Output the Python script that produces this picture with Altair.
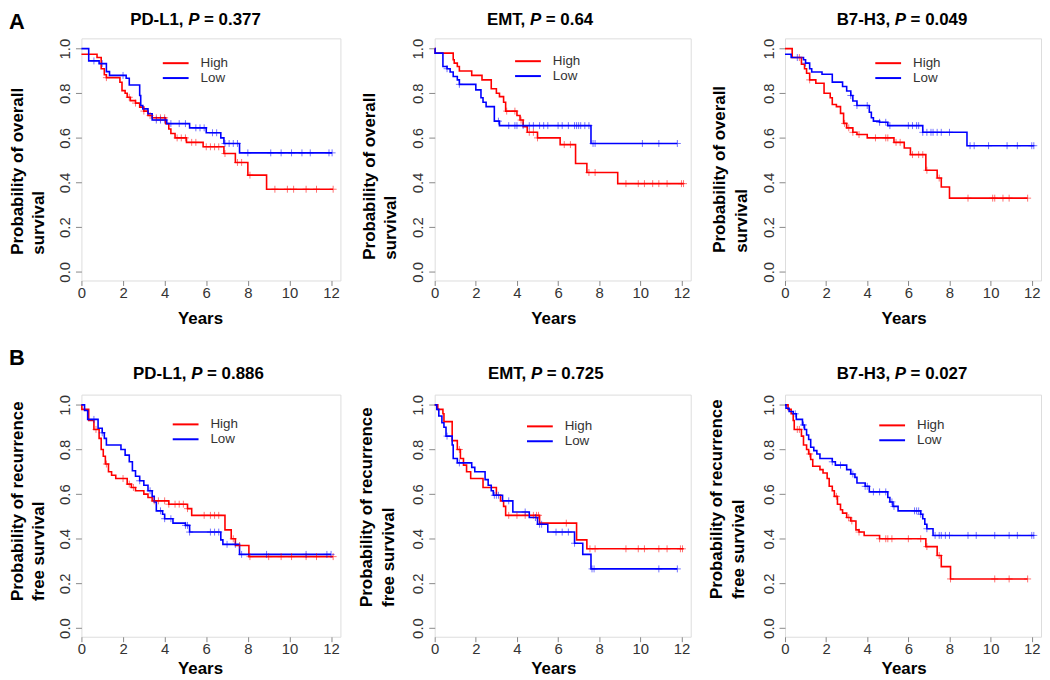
import altair as alt
import numpy as np
import pandas as pd

FONT = "Liberation Sans"
RED = "#ff0000"
BLUE = "#0000ff"
GROUPS = ["High", "Low"]
X_TICKS = [0, 2, 4, 6, 8, 10, 12]
Y_TICKS = [0.0, 0.2, 0.4, 0.6, 0.8, 1.0]

# ---------------- Row A: overall survival ----------------
# PD-L1
A1_HIGH_T = [0, 0.75, 0.95, 1.1, 1.2, 1.85, 1.95, 2.1, 2.2, 2.35, 2.6, 2.8, 3.0, 3.2, 3.4, 4.05, 4.2, 4.3, 4.5, 5.05, 5.85, 6.85, 7.4, 8.0, 8.9]
A1_HIGH_S = [0.975, 0.96, 0.91, 0.883, 0.87, 0.849, 0.812, 0.80, 0.782, 0.767, 0.756, 0.738, 0.72, 0.70, 0.69, 0.664, 0.64, 0.62, 0.60, 0.58, 0.56, 0.53, 0.49, 0.433, 0.37]
A1_HIGH_END = 12.1
A1_HIGH_CENS = [1.2, 2.3, 2.6, 3.0, 3.3, 3.6, 3.8, 4.0, 4.6, 4.8, 5.0, 5.3, 5.5, 6.0, 6.2, 6.4, 6.6, 6.9, 7.5, 7.7, 8.1, 9.3, 9.9, 10.2, 10.8, 11.3, 12.1]
A1_LOW_T = [0, 0.35, 0.85, 1.2, 1.35, 2.15, 2.3, 2.8, 2.85, 2.95, 3.2, 3.4, 4.1, 5.2, 6.0, 6.7, 6.85, 7.6]
A1_LOW_S = [1.0, 0.945, 0.933, 0.897, 0.88, 0.867, 0.837, 0.79, 0.745, 0.73, 0.708, 0.68, 0.664, 0.645, 0.623, 0.60, 0.575, 0.533]
A1_LOW_END = 12.05
A1_LOW_CENS = [0.6, 1.0, 2.0, 3.6, 3.8, 4.0, 4.3, 4.7, 5.0, 5.5, 5.7, 5.9, 6.3, 6.5, 6.9, 7.1, 7.3, 7.5, 8.0, 9.1, 9.6, 10.1, 10.6, 11.0, 11.9, 12.05]

# EMT
A2_HIGH_T = [0, 0.02, 0.9, 0.95, 1.1, 1.2, 1.8, 2.3, 2.75, 3.0, 3.15, 3.35, 3.45, 4.0, 4.15, 4.3, 4.5, 5.0, 6.1, 6.85, 7.4, 8.9]
A2_HIGH_S = [1.0, 0.98, 0.95, 0.935, 0.92, 0.90, 0.88, 0.86, 0.82, 0.80, 0.785, 0.76, 0.72, 0.70, 0.68, 0.65, 0.625, 0.60, 0.57, 0.485, 0.445, 0.395]
A2_HIGH_END = 12.1
A2_HIGH_CENS = [3.5, 3.9, 4.2, 4.6, 4.8, 5.0, 6.3, 6.6, 7.5, 7.8, 9.3, 9.9, 10.2, 10.6, 10.9, 11.3, 12.0, 12.1]
A2_LOW_T = [0, 0.02, 0.4, 0.6, 0.75, 0.9, 1.1, 1.2, 2.0, 2.25, 2.35, 2.5, 2.9, 3.15, 7.6]
A2_LOW_S = [1.0, 0.98, 0.92, 0.91, 0.895, 0.875, 0.86, 0.84, 0.815, 0.78, 0.76, 0.74, 0.675, 0.655, 0.575]
A2_LOW_END = 11.8
A2_LOW_CENS = [0.6, 1.2, 3.1, 3.6, 3.9, 4.0, 4.3, 4.6, 4.8, 5.1, 5.3, 5.5, 6.0, 6.2, 6.5, 6.8, 6.9, 7.0, 7.1, 7.3, 7.5, 7.7, 7.8, 10.1, 10.9, 11.8]

# B7-H3
A3_HIGH_T = [0, 0.35, 0.8, 0.95, 1.05, 1.2, 1.5, 1.9, 2.2, 2.3, 2.5, 2.7, 2.85, 3.0, 3.3, 3.5, 4.0, 5.3, 5.8, 6.1, 6.85, 7.4, 7.6, 8.0]
A3_HIGH_S = [1.0, 0.96, 0.93, 0.91, 0.89, 0.86, 0.845, 0.80, 0.78, 0.75, 0.74, 0.71, 0.665, 0.645, 0.625, 0.615, 0.60, 0.58, 0.555, 0.525, 0.455, 0.42, 0.38, 0.33]
A3_HIGH_END = 11.8
A3_HIGH_CENS = [0.7, 1.2, 2.9, 3.1, 3.3, 3.6, 4.4, 4.9, 5.0, 5.4, 5.6, 6.2, 6.5, 6.7, 6.9, 7.5, 8.9, 10.1, 10.2, 10.6, 10.9, 11.8]
A3_LOW_T = [0, 0.3, 0.9, 1.0, 1.2, 1.3, 1.8, 2.3, 2.8, 3.0, 3.2, 3.3, 3.5, 4.1, 4.2, 4.3, 4.6, 5.0, 6.7, 8.85]
A3_LOW_S = [0.975, 0.96, 0.95, 0.935, 0.91, 0.895, 0.885, 0.85, 0.83, 0.81, 0.79, 0.765, 0.745, 0.715, 0.69, 0.675, 0.67, 0.655, 0.625, 0.565]
A3_LOW_END = 12.1
A3_LOW_CENS = [0.6, 1.0, 3.2, 3.5, 4.0, 4.6, 4.9, 5.1, 6.0, 6.2, 6.4, 6.5, 6.7, 6.9, 7.1, 7.2, 7.4, 7.6, 8.0, 9.0, 9.2, 9.9, 10.8, 11.3, 12.0, 12.1]

# ---------------- Row B: recurrence free survival ----------------
# PD-L1
B1_HIGH_T = [0, 0.02, 0.35, 0.6, 0.85, 0.95, 1.05, 1.15, 1.3, 1.45, 1.65, 2.2, 2.4, 2.6, 3.0, 3.2, 3.4, 4.2, 5.1, 5.3, 6.9, 7.2, 7.4, 8.05]
B1_HIGH_S = [1.0, 0.98, 0.93, 0.89, 0.85, 0.80, 0.77, 0.735, 0.70, 0.685, 0.67, 0.645, 0.63, 0.615, 0.60, 0.585, 0.57, 0.555, 0.535, 0.505, 0.44, 0.40, 0.37, 0.32]
B1_HIGH_END = 12.1
B1_HIGH_CENS = [0.7, 1.2, 2.0, 2.3, 2.5, 3.5, 3.7, 4.0, 4.2, 4.5, 4.7, 4.9, 5.1, 5.9, 6.2, 6.4, 6.6, 7.3, 7.6, 8.1, 9.0, 9.6, 10.1, 10.8, 11.3, 12.1]
B1_LOW_T = [0, 0.15, 0.3, 0.8, 1.0, 1.1, 1.2, 1.9, 2.1, 2.3, 2.45, 2.6, 2.8, 3.0, 3.2, 3.4, 3.5, 3.6, 3.9, 4.0, 4.4, 5.0, 5.2, 6.7, 6.8, 7.6]
B1_LOW_S = [1.0, 0.975, 0.935, 0.895, 0.875, 0.85, 0.82, 0.80, 0.775, 0.745, 0.705, 0.68, 0.66, 0.64, 0.615, 0.59, 0.565, 0.525, 0.51, 0.49, 0.47, 0.46, 0.43, 0.395, 0.375, 0.33]
B1_LOW_END = 12.0
B1_LOW_CENS = [0.6, 1.0, 2.8, 3.3, 3.8, 4.0, 4.3, 5.0, 5.1, 5.2, 6.2, 6.4, 6.6, 7.0, 7.4, 7.7, 8.9, 10.8, 11.8, 12.0]

# EMT
B2_HIGH_T = [0, 0.15, 0.4, 0.45, 0.85, 1.1, 1.25, 1.4, 1.55, 1.75, 2.35, 3.0, 3.2, 3.35, 3.45, 5.1, 6.9, 7.4]
B2_HIGH_S = [1.0, 0.98, 0.96, 0.925, 0.84, 0.80, 0.76, 0.73, 0.70, 0.67, 0.63, 0.595, 0.57, 0.545, 0.505, 0.47, 0.395, 0.355]
B2_HIGH_END = 12.1
B2_HIGH_CENS = [1.2, 3.6, 4.0, 4.4, 4.8, 4.95, 5.05, 6.4, 7.55, 7.8, 9.3, 9.9, 10.2, 10.9, 11.3, 11.95, 12.05]
B2_LOW_T = [0, 0.1, 0.2, 0.35, 0.45, 0.55, 0.85, 0.9, 1.1, 1.8, 1.95, 2.45, 2.6, 2.75, 2.85, 3.3, 3.8, 4.6, 5.0, 5.5, 6.8, 7.2, 7.6]
B2_LOW_S = [1.0, 0.98, 0.95, 0.92, 0.90, 0.86, 0.82, 0.76, 0.74, 0.72, 0.70, 0.665, 0.64, 0.615, 0.595, 0.57, 0.52, 0.495, 0.465, 0.43, 0.38, 0.33, 0.265]
B2_LOW_END = 11.8
B2_LOW_CENS = [0.6, 1.2, 2.9, 3.0, 3.1, 3.6, 4.4, 4.9, 5.1, 5.2, 5.9, 6.2, 6.5, 6.8, 7.65, 7.75, 10.9, 11.8]

# B7-H3
B3_HIGH_T = [0, 0.15, 0.3, 0.4, 0.45, 0.8, 0.9, 1.05, 1.15, 1.25, 1.35, 1.7, 1.85, 2.05, 2.15, 2.3, 2.4, 2.55, 2.7, 2.8, 3.0, 3.2, 3.45, 3.6, 3.85, 4.6, 6.85, 7.4, 7.6, 8.05]
B3_HIGH_S = [1.0, 0.98, 0.96, 0.93, 0.89, 0.86, 0.82, 0.80, 0.78, 0.755, 0.725, 0.71, 0.695, 0.67, 0.635, 0.615, 0.59, 0.555, 0.53, 0.515, 0.495, 0.48, 0.44, 0.43, 0.415, 0.40, 0.365, 0.325, 0.275, 0.22]
B3_HIGH_END = 11.8
B3_HIGH_CENS = [0.6, 0.7, 1.2, 2.5, 3.1, 3.25, 3.6, 4.6, 4.9, 5.0, 5.2, 6.0, 6.6, 6.9, 7.5, 8.05, 10.2, 10.9, 11.8]
B3_LOW_T = [0, 0.05, 0.2, 0.4, 0.55, 0.85, 0.95, 1.05, 1.15, 1.25, 1.4, 1.55, 1.7, 2.3, 2.45, 3.0, 3.2, 3.4, 3.5, 3.9, 4.1, 5.0, 5.1, 5.25, 5.5, 6.6, 6.7, 6.8, 6.9, 7.2]
B3_LOW_S = [1.0, 0.985, 0.97, 0.96, 0.935, 0.91, 0.89, 0.865, 0.845, 0.81, 0.795, 0.78, 0.76, 0.745, 0.73, 0.71, 0.69, 0.675, 0.65, 0.635, 0.61, 0.585, 0.565, 0.545, 0.525, 0.51, 0.49, 0.465, 0.445, 0.415]
B3_LOW_END = 12.1
B3_LOW_CENS = [0.5, 0.9, 2.3, 2.7, 3.3, 3.9, 4.0, 4.3, 4.6, 4.9, 5.2, 5.3, 6.3, 6.4, 6.5, 6.6, 6.9, 7.3, 7.5, 7.6, 7.8, 8.0, 8.9, 9.3, 10.2, 10.9, 11.3, 12.0, 12.1]

MARKERS = ["PD-L1", "EMT", "B7-H3"]
P_ROW_A = ["0.377", "0.64", "0.049"]
P_ROW_B = ["0.886", "0.725", "0.027"]
YTITLE_A = "Probability of overall\nsurvival"
YTITLE_B = ["Probability of recurrence\nfree survival",
            "Probability of recurrence\nfree  survival",
            "Probability of recurrence\nfree survival"]

# ---------------- layout (pixels) ----------------
WIDTHS = [261, 258, 258]
HEIGHT = 244
X_DOMAIN = [0, 12.45]
Y_DOMAIN = [-0.039, 1.046]


def curve_frame(t, s, end, group):
    return pd.DataFrame({"t": list(t) + [end], "s": list(s) + [s[-1]], "group": group})


def censor_frame(t, s, cens, group):
    idx = np.searchsorted(np.asarray(t), np.asarray(cens), side="right") - 1
    return pd.DataFrame({"t": cens, "s": np.asarray(s)[idx], "group": group})


ONE = pd.DataFrame({"k": [0]})


def text_layer(text, x, y, size=14, weight="normal", style="normal", align="left",
               baseline="alphabetic", angle=0, color="#000000", line_height=None):
    kw = dict(text=text, font=FONT, fontSize=size, fontWeight=weight, fontStyle=style,
              align=align, baseline=baseline, color=color, lineBreak="\n")
    if angle:
        kw["angle"] = angle
    if line_height:
        kw["lineHeight"] = line_height
    return alt.Chart(ONE).mark_text(**kw).encode(x=alt.value(x), y=alt.value(y))


def rule_layer(x1, x2, y, color):
    return alt.Chart(ONE).mark_rule(color=color, strokeWidth=2).encode(
        x=alt.value(x1), x2=alt.value(x2), y=alt.value(y))


def panel(high, low, width, marker, pval, ytitle, lay, letter=None):
    curves = pd.concat([curve_frame(high[0], high[1], high[2], "High"),
                        curve_frame(low[0], low[1], low[2], "Low")])
    cens = pd.concat([censor_frame(high[0], high[1], high[3], "High"),
                      censor_frame(low[0], low[1], low[3], "Low")])
    x = alt.X("t:Q", scale=alt.Scale(domain=X_DOMAIN, nice=False, zero=False),
              axis=alt.Axis(values=X_TICKS, title=None, grid=False, domain=False,
                            tickSize=5, tickColor="#888888", labelPadding=0,
                            labelFont=FONT, labelFontSize=15, labelColor="#333333",
                            labelFlush=False))
    y = alt.Y("s:Q", scale=alt.Scale(domain=Y_DOMAIN, nice=False, zero=False),
              axis=alt.Axis(values=Y_TICKS, format=".1f", title=None, grid=False,
                            domain=False, tickSize=6, tickColor="#888888",
                            labelPadding=3, labelAngle=270, labelAlign="center",
                            labelBaseline="bottom", labelFont=FONT, labelFontSize=15,
                            labelColor="#333333", labelFlush=False))
    color = alt.Color("group:N", scale=alt.Scale(domain=GROUPS, range=[RED, BLUE]), legend=None)

    lines = alt.Chart(curves).mark_line(interpolate="step-after", strokeWidth=1.6).encode(
        x=x, y=y, color=color, detail="group:N")
    ticks = alt.Chart(cens).mark_point(shape="M0,-1L0,1M-1,0L1,0", size=49, filled=False,
                                       strokeWidth=1, opacity=0.55).encode(x=x, y=y, color=color)

    tx, ty = lay["title"]
    layers = [
        lines, ticks,
        # legend
        rule_layer(lay["leg_x"], lay["leg_x"] + 26, lay["leg_y"], RED),
        rule_layer(lay["leg_x"], lay["leg_x"] + 26, lay["leg_y"] + 15, BLUE),
        text_layer("High", lay["leg_x"] + 38, lay["leg_y"], size=13.5, baseline="middle", color="#333333"),
        text_layer("Low", lay["leg_x"] + 38, lay["leg_y"] + 15, size=13.5, baseline="middle", color="#333333"),
        # panel title with italic P
        text_layer(marker + ",", tx - 4.7, ty, size=17, weight="bold", align="right"),
        text_layer("P", tx, ty, size=17, weight="bold", style="italic"),
        text_layer("= " + pval, tx + 16, ty, size=17, weight="bold"),
        # axis titles
        text_layer("Years", 120, HEIGHT + lay["years_dy"], size=17, weight="bold", align="center"),
        text_layer(ytitle, lay["yt_x"], lay["yt_y"], size=17, weight="bold", angle=270,
                   line_height=21.5),
    ]
    if letter:
        layers.append(text_layer(letter, -73, lay["letter_y"], size=22, weight="bold"))
    return alt.layer(*layers).properties(width=width, height=HEIGHT)


LAYOUT = [
    dict(title=(107.6, -13), leg_x=82, leg_y=25, yt_x=-59, yt_y=218, letter_y=-9, years_dy=44),
    dict(title=(96, -13), leg_x=81, leg_y=23, yt_x=-60, yt_y=223, years_dy=44),
    dict(title=(110.6, -13), leg_x=91, leg_y=25, yt_x=-60, yt_y=216, years_dy=44),
    dict(title=(110.6, -16), leg_x=92, leg_y=30, yt_x=-59, yt_y=208, letter_y=-30, years_dy=38),
    dict(title=(97, -16), leg_x=93, leg_y=32, yt_x=-63, yt_y=214, years_dy=38),
    dict(title=(110.6, -16), leg_x=95, leg_y=31, yt_x=-63, yt_y=206, years_dy=38),
]

DATA = [
    ((A1_HIGH_T, A1_HIGH_S, A1_HIGH_END, A1_HIGH_CENS), (A1_LOW_T, A1_LOW_S, A1_LOW_END, A1_LOW_CENS)),
    ((A2_HIGH_T, A2_HIGH_S, A2_HIGH_END, A2_HIGH_CENS), (A2_LOW_T, A2_LOW_S, A2_LOW_END, A2_LOW_CENS)),
    ((A3_HIGH_T, A3_HIGH_S, A3_HIGH_END, A3_HIGH_CENS), (A3_LOW_T, A3_LOW_S, A3_LOW_END, A3_LOW_CENS)),
    ((B1_HIGH_T, B1_HIGH_S, B1_HIGH_END, B1_HIGH_CENS), (B1_LOW_T, B1_LOW_S, B1_LOW_END, B1_LOW_CENS)),
    ((B2_HIGH_T, B2_HIGH_S, B2_HIGH_END, B2_HIGH_CENS), (B2_LOW_T, B2_LOW_S, B2_LOW_END, B2_LOW_CENS)),
    ((B3_HIGH_T, B3_HIGH_S, B3_HIGH_END, B3_HIGH_CENS), (B3_LOW_T, B3_LOW_S, B3_LOW_END, B3_LOW_CENS)),
]

panels = []
for i in range(6):
    row, col = divmod(i, 3)
    pval = (P_ROW_A if row == 0 else P_ROW_B)[col]
    ytitle = YTITLE_A if row == 0 else YTITLE_B[col]
    letter = ("A" if row == 0 else "B") if col == 0 else None
    high, low = DATA[i]
    panels.append(panel(high, low, WIDTHS[col], MARKERS[col], pval, ytitle, LAYOUT[i], letter))

chart = alt.concat(
    *panels, columns=3, spacing={"row": 115, "column": 95}, bounds="flush", align="each"
).properties(padding=0).configure_view(stroke="#999999", strokeWidth=1.5).configure(
    background="white")

chart.save("out.html", embed_options={"renderer": "svg", "actions": False})
